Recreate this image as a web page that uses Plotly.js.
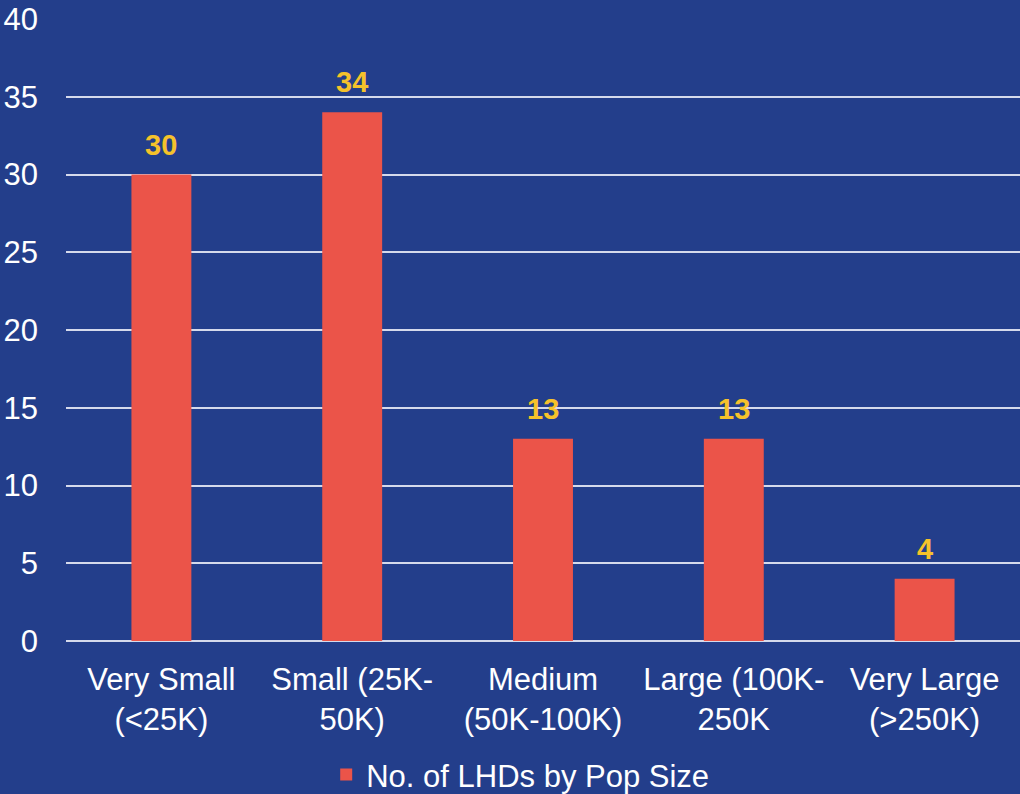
<!DOCTYPE html>
<html><head><meta charset="utf-8">
<script src="https://cdn.plot.ly/plotly-3.0.1.min.js"></script>
<style>html,body{margin:0;padding:0;background:#233E8B;}#chart{width:1020px;height:794px;}</style>
</head><body><div id="chart"></div>
<script>
const categories = ["Very Small<br>(<25K)", "Small (25K-<br>50K)", "Medium<br>(50K-100K)", "Large (100K-<br>250K", "Very Large<br>(>250K)"];
const values = [30, 34, 13, 13, 4];
const seriesName = "No. of LHDs by Pop Size";
const yTicks = [0, 5, 10, 15, 20, 25, 30, 35, 40];

const BG = '#233E8B', BAR = '#EB5449', LABEL = '#F5C22B', GRID = '#D5DAEC', TXT = '#FFFFFF';
const FONT = 'Liberation Sans, Arial, sans-serif';

const trace = {
  type: 'bar', x: categories, y: values, name: seriesName,
  marker: {color: BAR}, showlegend: true, hoverinfo: 'none'
};
const annotations = categories.map((c, i) => ({
  x: c, y: values[i], xref: 'x', yref: 'y', text: String(values[i]),
  showarrow: false, yanchor: 'bottom', yshift: 12,
  font: {family: FONT, size: 29, color: LABEL, weight: 'bold'}
}));
const layout = {
  width: 1020, height: 794,
  margin: {l: 66, r: 0, t: 19, b: 153, autoexpand: false},
  paper_bgcolor: BG, plot_bgcolor: BG,
  font: {family: FONT, color: TXT, size: 31},
  bargap: 0.686,
  xaxis: {type: 'category', showgrid: false, zeroline: false, showline: false,
    ticks: '', tickfont: {size: 31, color: TXT}, ticklabelstandoff: 17, automargin: false},
  yaxis: {range: [0, 40], tickvals: yTicks, showgrid: true, gridcolor: GRID, gridwidth: 2,
    zeroline: true, zerolinecolor: GRID, zerolinewidth: 2, showline: false,
    tickfont: {size: 31, color: TXT}, ticklabelstandoff: 27, automargin: false},
  showlegend: true,
  legend: {orientation: 'h', xref: 'container', yref: 'container', x: 0.51, xanchor: 'center',
    y: 0.024, yanchor: 'middle',
    font: {size: 31, color: TXT}, bgcolor: 'rgba(0,0,0,0)', itemwidth: 30},
  annotations: annotations
};
Plotly.newPlot('chart', [trace], layout, {displayModeBar: false, staticPlot: true});
</script></body></html>
